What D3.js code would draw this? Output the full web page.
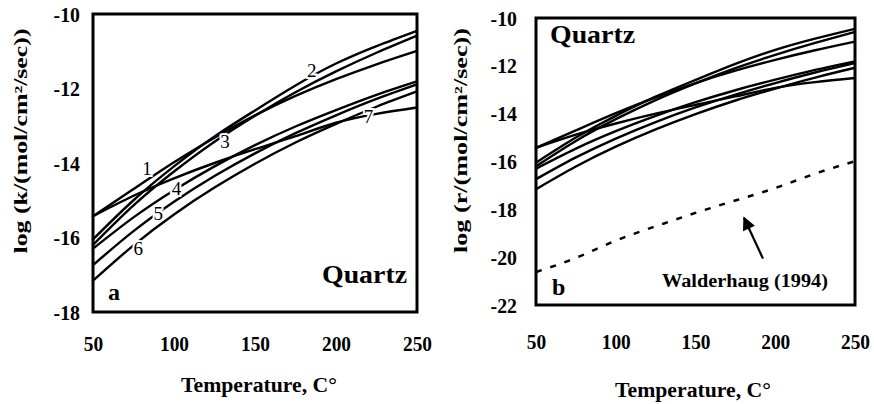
<!DOCTYPE html>
<html>
<head>
<meta charset="utf-8">
<script src="https://cdn.jsdelivr.net/npm/d3@7"></script>
<style>
  html, body { margin: 0; padding: 0; background: #fff; }
  svg { display: block; }
  text { font-family: "Liberation Serif", "Times New Roman", serif; fill: #000; }
</style>
</head>
<body>
<svg id="chart" width="874" height="404"></svg>
<script>
// Temperatures (°C) at which each rate curve is sampled
const temps = [50, 75, 100, 125, 150, 175, 200, 225, 250];

// log rate for the seven quartz rate laws
const curve1 = [-15.43, -14.70, -13.98, -13.32, -12.72, -12.20, -11.75, -11.35, -10.99];
const curve2 = [-16.05, -15.00, -14.09, -13.29, -12.59, -11.92, -11.33, -10.86, -10.45];
const curve3 = [-16.20, -15.14, -14.23, -13.43, -12.73, -12.10, -11.54, -11.04, -10.58];
const curve4 = [-16.30, -15.46, -14.73, -14.09, -13.52, -13.02, -12.58, -12.17, -11.81];
const curve5 = [-16.74, -15.83, -15.04, -14.35, -13.74, -13.20, -12.72, -12.28, -11.89];
const curve6 = [-17.16, -16.21, -15.38, -14.66, -14.02, -13.45, -12.95, -12.49, -12.08];
const curve7 = [-15.43, -14.88, -14.41, -14.00, -13.63, -13.28, -12.92, -12.68, -12.51];
const curveNames = ["1", "2", "3", "4", "5", "6", "7"];

// Walderhaug (1994) rate, panel b
const walderhaug = [-20.62, -20.03, -19.31, -18.71, -18.15, -17.63, -17.11, -16.51, -15.99];

// Where each curve number sits (temperature, log value) in panel a
const labelTemps  = [83.3, 185, 131.5, 101.6, 90.3, 78, 220];
const labelValues = [-14.14, -11.50, -13.43, -14.68, -15.35, -16.29, -12.76];

// Arrow pointing at the Walderhaug line (tail, head)
const arrowTail = [192.3, -20.06];
const arrowHead = [180.4, -18.35];

// Axis ticks
const xTicks  = [50, 100, 150, 200, 250];
const yTicksA = [-18, -16, -14, -12, -10];
const yTicksB = [-22, -20, -18, -16, -14, -12, -10];

const allCurves = [curve1, curve2, curve3, curve4, curve5, curve6, curve7];
const svg = d3.select("#chart");

// plain hyphen for negatives
const fmt = d => String(d);

// squeeze text horizontally a little (narrow bold serif look)
function condense(sel, k) {
  sel.each(function () {
    const w = this.getComputedTextLength();
    d3.select(this).attr("textLength", w * k).attr("lengthAdjust", "spacingAndGlyphs");
  });
}

function drawPanel(opt) {
  const x = d3.scaleLinear().domain([50, 250]).range([opt.left, opt.right]);
  const y = d3.scaleLinear().domain(opt.yDomain).range([opt.bottom, opt.top]);
  const g = svg.append("g");

  const line = d3.line()
    .x((d, i) => x(temps[i]))
    .y(d => y(d))
    .curve(d3.curveNatural);

  // rate curves
  g.append("g").selectAll("path")
    .data(allCurves)
    .join("path")
    .attr("d", d => line(d))
    .attr("fill", "none")
    .attr("stroke", "#000")
    .attr("stroke-width", 2.4)
    .attr("stroke-linecap", "round");

  // x axis labels
  const xa = g.append("g")
    .attr("transform", `translate(0,${opt.bottom})`)
    .call(d3.axisBottom(x).tickValues(xTicks).tickSize(0).tickPadding(opt.xPad).tickFormat(fmt));
  xa.select(".domain").remove();
  xa.selectAll("text")
    .attr("font-family", "Liberation Serif, serif")
    .attr("font-weight", "bold")
    .attr("font-size", 22)
    .attr("fill", "#000");
  condense(xa.selectAll("text"), 0.88);

  // y axis labels
  const ya = g.append("g")
    .attr("transform", `translate(${opt.left},0)`)
    .call(d3.axisLeft(y).tickValues(opt.yTicks).tickSize(0).tickPadding(opt.yPad).tickFormat(fmt));
  ya.select(".domain").remove();
  ya.selectAll("text")
    .attr("font-family", "Liberation Serif, serif")
    .attr("font-weight", "bold")
    .attr("font-size", 22)
    .attr("fill", "#000");
  condense(ya.selectAll("text"), 0.9);

  // y axis title
  g.append("text")
    .attr("transform", `translate(${opt.yTitleX},${(opt.top + opt.bottom) / 2 - opt.yTitleShift}) rotate(-90)`)
    .attr("text-anchor", "middle")
    .attr("font-weight", "bold")
    .attr("font-size", 18)
    .attr("textLength", 225)
    .attr("lengthAdjust", "spacingAndGlyphs")
    .text(opt.yTitle);

  // x axis title
  g.append("text")
    .attr("x", opt.xTitleX)
    .attr("y", opt.xTitleY)
    .attr("text-anchor", "middle")
    .attr("font-weight", "bold")
    .attr("font-size", 20)
    .attr("textLength", 156)
    .attr("lengthAdjust", "spacingAndGlyphs")
    .text("Temperature, C°");

  return { g, x, y };
}

// ---- panel a ----
const A = drawPanel({
  left: 93, right: 417, top: 14, bottom: 312,
  yDomain: [-18, -10], yTicks: yTicksA,
  xPad: 23, yPad: 13,
  yTitle: "log (k/(mol/cm²/sec))", yTitleX: 27, yTitleShift: 22,
  xTitleX: 259, xTitleY: 392
});

// curve numbers, with a white halo so the line breaks around them
A.g.append("g").selectAll("text")
  .data(curveNames)
  .join("text")
  .attr("x", (d, i) => A.x(labelTemps[i]))
  .attr("y", (d, i) => A.y(labelValues[i]))
  .attr("dy", "0.35em")
  .attr("text-anchor", "middle")
  .attr("font-size", 19)
  .attr("stroke", "#fff")
  .attr("stroke-width", 4)
  .attr("paint-order", "stroke")
  .text(d => d);

A.g.append("text")
  .attr("x", 322).attr("y", 283)
  .attr("font-weight", "bold").attr("font-size", 25)
  .attr("textLength", 85).attr("lengthAdjust", "spacingAndGlyphs")
  .text("Quartz");
A.g.append("text")
  .attr("x", 108).attr("y", 300)
  .attr("font-weight", "bold").attr("font-size", 24)
  .text("a");

A.g.append("rect")
  .attr("x", 93).attr("y", 14).attr("width", 417 - 93).attr("height", 312 - 14)
  .attr("fill", "none").attr("stroke", "#000").attr("stroke-width", 3);

// ---- panel b ----
const B = drawPanel({
  left: 536, right: 855, top: 18, bottom: 305,
  yDomain: [-22, -10], yTicks: yTicksB,
  xPad: 28, yPad: 19,
  yTitle: "log (r/(mol/cm²/sec))", yTitleX: 467, yTitleShift: 21,
  xTitleX: 693, xTitleY: 397
});

// Walderhaug (1994) dashed line
B.g.append("path")
  .attr("d", d3.line().x((d, i) => B.x(temps[i])).y(d => B.y(d)).curve(d3.curveNatural)(walderhaug))
  .attr("fill", "none")
  .attr("stroke", "#000")
  .attr("stroke-width", 2.5)
  .attr("stroke-dasharray", "6,9");

// arrow
svg.append("defs").append("marker")
  .attr("id", "head")
  .attr("viewBox", "0 0 10 10")
  .attr("refX", 9).attr("refY", 5)
  .attr("markerWidth", 7).attr("markerHeight", 6)
  .attr("markerUnits", "strokeWidth")
  .attr("orient", "auto")
  .append("path").attr("d", "M0,0 L10,5 L0,10 Z").attr("fill", "#000");

B.g.append("line")
  .attr("x1", B.x(arrowTail[0])).attr("y1", B.y(arrowTail[1]))
  .attr("x2", B.x(arrowHead[0])).attr("y2", B.y(arrowHead[1]))
  .attr("stroke", "#000").attr("stroke-width", 2.2)
  .attr("marker-end", "url(#head)");

B.g.append("text")
  .attr("x", 662).attr("y", 287)
  .attr("font-weight", "bold").attr("font-size", 18)
  .attr("textLength", 166).attr("lengthAdjust", "spacingAndGlyphs")
  .text("Walderhaug (1994)");

B.g.append("text")
  .attr("x", 550).attr("y", 43)
  .attr("font-weight", "bold").attr("font-size", 25)
  .attr("textLength", 85).attr("lengthAdjust", "spacingAndGlyphs")
  .text("Quartz");
B.g.append("text")
  .attr("x", 552).attr("y", 295)
  .attr("font-weight", "bold").attr("font-size", 24)
  .text("b");

B.g.append("rect")
  .attr("x", 536).attr("y", 18).attr("width", 855 - 536).attr("height", 305 - 18)
  .attr("fill", "none").attr("stroke", "#000").attr("stroke-width", 3);
</script>
</body>
</html>
